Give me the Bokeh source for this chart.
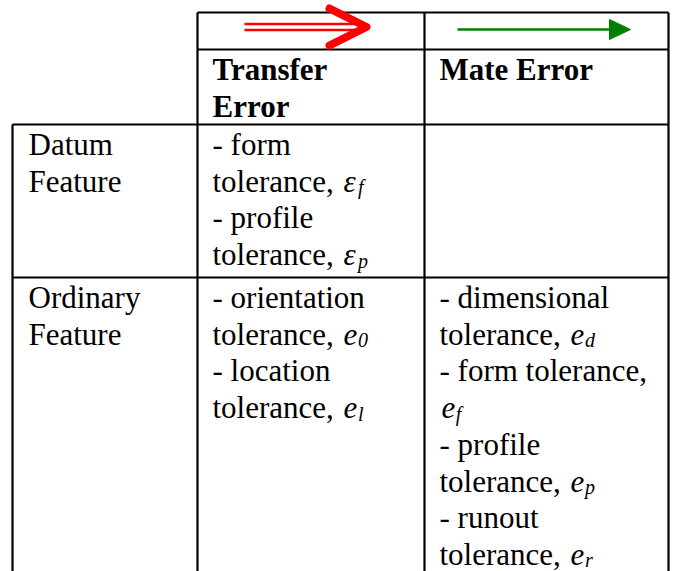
from bokeh.plotting import figure
from bokeh.models import Range1d
from bokeh.core.properties import value
from bokeh.embed import file_html
from bokeh.resources import INLINE

# ---------------- content ----------------
col_headers = [["Transfer", "Error"], ["Mate Error"]]
row_labels = [["Datum", "Feature"], ["Ordinary", "Feature"]]

# each cell line: (plain text, italic symbol, italic subscript)
transfer_datum = [("- form", "", ""), ("tolerance, ", "ε", "f"),
                  ("- profile", "", ""), ("tolerance, ", "ε", "p")]
mate_datum = []
transfer_ordinary = [("- orientation", "", ""), ("tolerance, ", "e", "0"),
                     ("- location", "", ""), ("tolerance, ", "e", "l")]
mate_ordinary = [("- dimensional", "", ""), ("tolerance, ", "e", "d"),
                 ("- form tolerance,", "", ""), ("", "e", "f"),
                 ("- profile", "", ""), ("tolerance, ", "e", "p"),
                 ("- runout", "", ""), ("tolerance, ", "e", "r")]
cells = [[transfer_datum, mate_datum], [transfer_ordinary, mate_ordinary]]

# ---------------- layout (screen pixels) ----------------
W, H = 674, 571
X_LEFT, X_C1, X_C2, X_RIGHT = 12, 197, 424, 668
Y_TOP, Y_ARROW_BOT, Y_HEAD_BOT, Y_ROW2 = 12, 49, 124, 277
Y_BOTTOM = 571
PAD_X = 15
FIRST_BASE = 20
LINE_H = 36.7
FS = 31
SUB_FS = 20
FONT = "Liberation Serif"

# Times metrics (1/1000 em)
TW = {"t": 278, "o": 500, "l": 278, "e": 444, "r": 333, "a": 444, "n": 500,
      "c": 444, ",": 250, " ": 250, "-": 333, "f": 333, "m": 778}


def text_width(s, fs):
    return sum(TW.get(ch, 500) for ch in s) * fs / 1000.0


p = figure(width=W, height=H, x_range=Range1d(0, W), y_range=Range1d(H, 0),
           output_backend="svg", toolbar_location=None, min_border=0,
           x_axis_type=None, y_axis_type=None)
p.grid.visible = False
p.outline_line_color = None
p.background_fill_color = "white"
p.border_fill_color = "white"

# ---------------- borders ----------------
hx0 = [X_C1, X_C1, X_LEFT, X_LEFT]
hx1 = [X_RIGHT, X_RIGHT, X_RIGHT, X_RIGHT]
hy = [Y_TOP, Y_ARROW_BOT, Y_HEAD_BOT, Y_ROW2]
p.segment(x0=hx0, y0=hy, x1=hx1, y1=hy, line_color="black", line_width=2.2)
vx = [X_LEFT, X_C1, X_C2, X_RIGHT]
vy0 = [Y_HEAD_BOT, Y_TOP, Y_TOP, Y_TOP]
vy1 = [Y_BOTTOM + 2] * 4
p.segment(x0=vx, y0=vy0, x1=vx, y1=vy1, line_color="black", line_width=2.2)

# ---------------- arrows ----------------
# red double arrow (transfer)
red_x0, red_x1 = 244, 362
red_y = [23.5, 29.5]
p.segment(x0=[red_x0] * 2, y0=red_y, x1=[red_x1] * 2, y1=red_y,
          line_color="#ff0000", line_width=2.6)
p.line(x=[329, 366, 329], y=[8, 26.5, 45], line_color="#ff0000", line_width=8,
       line_join="round", line_cap="round")
# green single arrow (mate)
p.segment(x0=[457], y0=[29], x1=[612], y1=[29], line_color="#008000", line_width=2.6)
p.patch(x=[609, 630, 609], y=[19, 29, 39], fill_color="#008000", line_color="#008000")

# ---------------- text ----------------
col_x = [X_C1 + PAD_X, X_C2 + PAD_X]
row_top = [Y_HEAD_BOT, Y_ROW2]

plain_x, plain_y, plain_t = [], [], []
sym_x, sym_y, sym_t = [], [], []
sub_x, sub_y, sub_t = [], [], []
bold_x, bold_y, bold_t = [], [], []

for ci, lines in enumerate(col_headers):
    for li, s in enumerate(lines):
        bold_x.append(col_x[ci])
        bold_y.append(Y_ARROW_BOT + FIRST_BASE + li * LINE_H)
        bold_t.append(s)

for ri, lines in enumerate(row_labels):
    for li, s in enumerate(lines):
        plain_x.append(X_LEFT + 16)
        plain_y.append(row_top[ri] + FIRST_BASE + li * LINE_H)
        plain_t.append(s)

for ri in range(2):
    for ci in range(2):
        for li, (txt, sym, sub) in enumerate(cells[ri][ci]):
            y = row_top[ri] + FIRST_BASE + li * LINE_H
            x = col_x[ci]
            if txt.strip():
                plain_x.append(x)
                plain_y.append(y)
                plain_t.append(txt.rstrip())
            if sym:
                sx = x + text_width(txt, FS) + 2
                sym_x.append(sx)
                sym_y.append(y)
                sym_t.append(sym)
                sub_x.append(sx + 0.46 * FS)
                sub_y.append(y + 6)
                sub_t.append(sub)

p.text(x=plain_x, y=plain_y, text=plain_t, text_font=value(FONT),
       text_font_size=f"{FS}px", text_color="black",
       text_baseline="alphabetic", text_align="left")
p.text(x=bold_x, y=bold_y, text=bold_t, text_font=value(FONT),
       text_font_size=f"{FS}px", text_font_style="bold", text_color="black",
       text_baseline="alphabetic", text_align="left")
p.text(x=sym_x, y=sym_y, text=sym_t, text_font=value(FONT),
       text_font_size=f"{FS}px", text_font_style="italic", text_color="black",
       text_baseline="alphabetic", text_align="left")
p.text(x=sub_x, y=sub_y, text=sub_t, text_font=value(FONT),
       text_font_size=f"{SUB_FS}px", text_font_style="italic", text_color="black",
       text_baseline="alphabetic", text_align="left")

open("out.html", "w").write(file_html(p, INLINE))
